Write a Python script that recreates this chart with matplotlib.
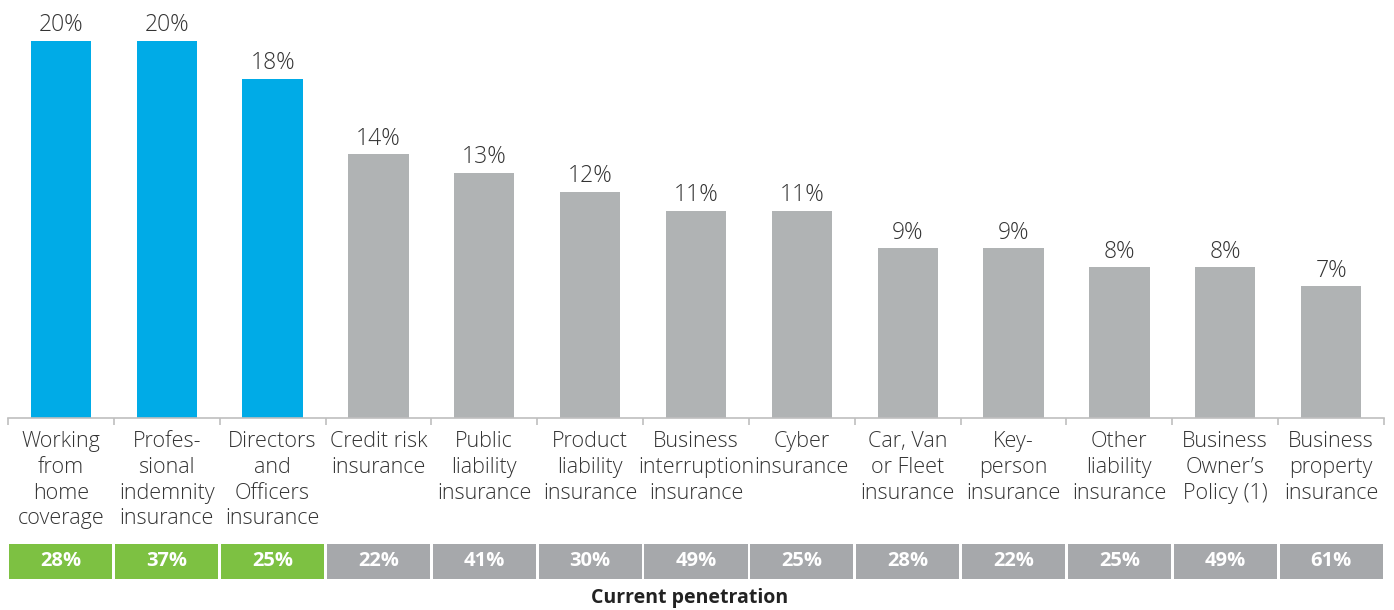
import matplotlib
matplotlib.use("Agg")
import matplotlib.pyplot as plt
from matplotlib.patches import Rectangle
from matplotlib.transforms import blended_transform_factory

categories = [
    "Working\nfrom\nhome\ncoverage",
    "Profes-\nsional\nindemnity\ninsurance",
    "Directors\nand\nOfficers\ninsurance",
    "Credit risk\ninsurance",
    "Public\nliability\ninsurance",
    "Product\nliability\ninsurance",
    "Business\ninterruption\ninsurance",
    "Cyber\ninsurance",
    "Car, Van\nor Fleet\ninsurance",
    "Key-\nperson\ninsurance",
    "Other\nliability\ninsurance",
    "Business\nOwner\u2019s\nPolicy (1)",
    "Business\nproperty\ninsurance",
]
intent = [20, 20, 18, 14, 13, 12, 11, 11, 9, 9, 8, 8, 7]
penetration = [28, 37, 25, 22, 41, 30, 49, 25, 28, 22, 25, 49, 61]
highlighted = 3  # first three categories are emphasised

BLUE = "#00ABE7"
GREY_BAR = "#B0B3B4"
GREEN = "#7DC142"
GREY_BOX = "#A6A8AB"
TEXT = "#333333"

plt.rcParams["font.family"] = ["Open Sans", "DejaVu Sans"]

W, H = 1394, 610
fig = plt.figure(figsize=(W / 100, H / 100), dpi=100)
ax = fig.add_axes([8 / W, (H - 418) / H, 1376 / W, 418 / H])

x = list(range(len(categories)))
colors = [BLUE if i < highlighted else GREY_BAR for i in x]
ax.bar(x, intent, width=0.57, color=colors, zorder=2)

ax.set_xlim(-0.5, len(categories) - 0.5)
ax.set_ylim(0, 22.17)
for side in ("top", "right", "left"):
    ax.spines[side].set_visible(False)
ax.spines["bottom"].set_color("#BFBFBF")
ax.spines["bottom"].set_linewidth(1.2)
ax.set_yticks([])
ax.set_xticks([i - 0.5 for i in range(len(categories) + 1)])
ax.set_xticklabels([])
ax.tick_params(axis="x", length=5, width=1.2, color="#BFBFBF", direction="out")

for i, v in enumerate(intent):
    ax.annotate(f"{v}%", (i, v), xytext=(0, 2.5), textcoords="offset points",
                ha="center", va="bottom", fontsize=16.5, color=TEXT,
                fontweight="light")

# Category labels below the axis
tr_px = blended_transform_factory(ax.transData, fig.transFigure)
for i, lab in enumerate(categories):
    ax.text(i, (H - 431) / H, lab, transform=tr_px, ha="center", va="top",
            fontsize=15.5, color=TEXT, linespacing=1.3, fontweight="light")

# Current penetration strip
box_bottom = (H - 579) / H
box_h = 35 / H
for i, p in enumerate(penetration):
    c = GREEN if i < highlighted else GREY_BOX
    rect = Rectangle((i - 0.5 + 0.013, box_bottom), 0.974, box_h, transform=tr_px,
                     facecolor=c, edgecolor="none", clip_on=False)
    ax.add_patch(rect)
    ax.text(i, box_bottom + box_h / 2, f"{p}%", transform=tr_px, ha="center",
            va="center", fontsize=14.5, fontweight="bold", color="white")

fig.text(690 / W, (H - 598) / H, "Current penetration", ha="center", va="center",
         fontsize=14, fontweight="bold", color="#222222")

fig.savefig("out.png", dpi=100)
